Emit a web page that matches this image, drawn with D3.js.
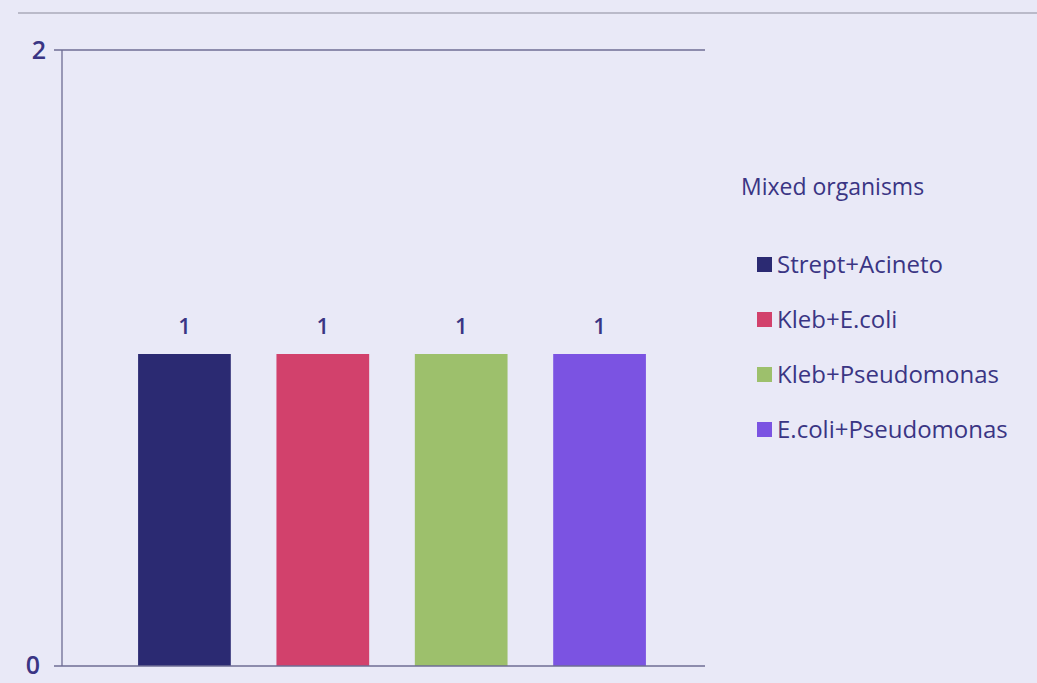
<!DOCTYPE html>
<html>
<head>
<meta charset="utf-8">
<script src="https://cdn.jsdelivr.net/npm/d3@7"></script>
<style>
  body { margin: 0; background: #e9e9f7; }
  svg { display: block; }
</style>
</head>
<body>
<div id="chart"></div>
<script>
// data
var series = ["Strept+Acineto", "Kleb+E.coli", "Kleb+Pseudomonas", "E.coli+Pseudomonas"];
var values = [1, 1, 1, 1];
var colors = ["#2b2a72", "#d2416c", "#9dc06c", "#7b53e2"];
var yTicks = [0, 2];
var legendTitle = "Mixed organisms";

var width = 1037, height = 683;
var textColor = "#3a3584";
var font = "'Open Sans', Lato, sans-serif";

var svg = d3.select("#chart").append("svg")
    .attr("width", width)
    .attr("height", height);

svg.append("rect")
    .attr("width", width).attr("height", height)
    .attr("fill", "#e9e9f7");

// edge of the printed page
svg.append("line")
    .attr("x1", 18).attr("x2", width).attr("y1", 13).attr("y2", 13)
    .attr("stroke", "#8c8c9c").attr("stroke-width", 1.2);

var plot = { left: 62, right: 705, top: 50, bottom: 666 };

var y = d3.scaleLinear().domain([0, 2]).range([plot.bottom, plot.top]);
var x = d3.scaleBand().domain(series)
    .range([79, plot.right])
    .paddingInner(0.33)
    .paddingOuter(0.427);

// top gridline at max
svg.append("line")
    .attr("x1", plot.left - 8).attr("x2", plot.right)
    .attr("y1", y(2)).attr("y2", y(2))
    .attr("stroke", "#6e6c94").attr("stroke-width", 1.3);

// y axis line
svg.append("line")
    .attr("x1", plot.left).attr("x2", plot.left)
    .attr("y1", y(2)).attr("y2", plot.bottom)
    .attr("stroke", "#6e6c94").attr("stroke-width", 1.3);

// tick labels
svg.selectAll(".ytick")
    .data(yTicks)
    .enter().append("text")
    .attr("class", "ytick")
    .attr("x", function(d) { return d === 0 ? 33 : 39; })
    .attr("y", function(d) { return d === 0 ? height - 9 : y(d) + 9; })
    .attr("text-anchor", "middle")
    .attr("font-family", font)
    .attr("font-size", 25)
    .attr("font-weight", 600)
    .attr("fill", textColor)
    .text(function(d) { return d; });

// bars
svg.selectAll(".bar")
    .data(series)
    .enter().append("rect")
    .attr("class", "bar")
    .attr("x", function(d) { return x(d); })
    .attr("width", x.bandwidth())
    .attr("y", function(d, i) { return y(values[i]) - 4; })
    .attr("height", function(d, i) { return plot.bottom - y(values[i]) + 4; })
    .attr("fill", function(d, i) { return colors[i]; });

// x axis line
svg.append("line")
    .attr("x1", plot.left - 8).attr("x2", plot.right)
    .attr("y1", plot.bottom).attr("y2", plot.bottom)
    .attr("stroke", "#6e6c94").attr("stroke-width", 1.5);

// value labels
svg.selectAll(".val")
    .data(series)
    .enter().append("text")
    .attr("class", "val")
    .attr("x", function(d) { return x(d) + x.bandwidth() / 2; })
    .attr("y", function(d, i) { return y(values[i]) - 24; })
    .attr("text-anchor", "middle")
    .attr("font-family", font)
    .attr("font-size", 22)
    .attr("font-weight", 600)
    .attr("fill", textColor)
    .text(function(d, i) { return values[i]; });

// legend
var legend = svg.append("g").attr("transform", "translate(741,0)");
legend.append("text")
    .attr("x", 0).attr("y", 195)
    .attr("font-family", font)
    .attr("font-size", 23)
    .attr("font-weight", 500)
    .attr("fill", textColor)
    .text(legendTitle);

var item = legend.selectAll(".item")
    .data(series)
    .enter().append("g")
    .attr("class", "item")
    .attr("transform", function(d, i) { return "translate(16," + (264 + i * 55) + ")"; });

item.append("rect")
    .attr("x", 0).attr("y", -7)
    .attr("width", 15).attr("height", 15)
    .attr("fill", function(d, i) { return colors[i]; });

item.append("text")
    .attr("x", 20).attr("y", 9)
    .attr("font-family", font)
    .attr("font-size", 24)
    .attr("font-weight", 500)
    .attr("fill", textColor)
    .text(function(d) { return d; });
</script>
</body>
</html>
